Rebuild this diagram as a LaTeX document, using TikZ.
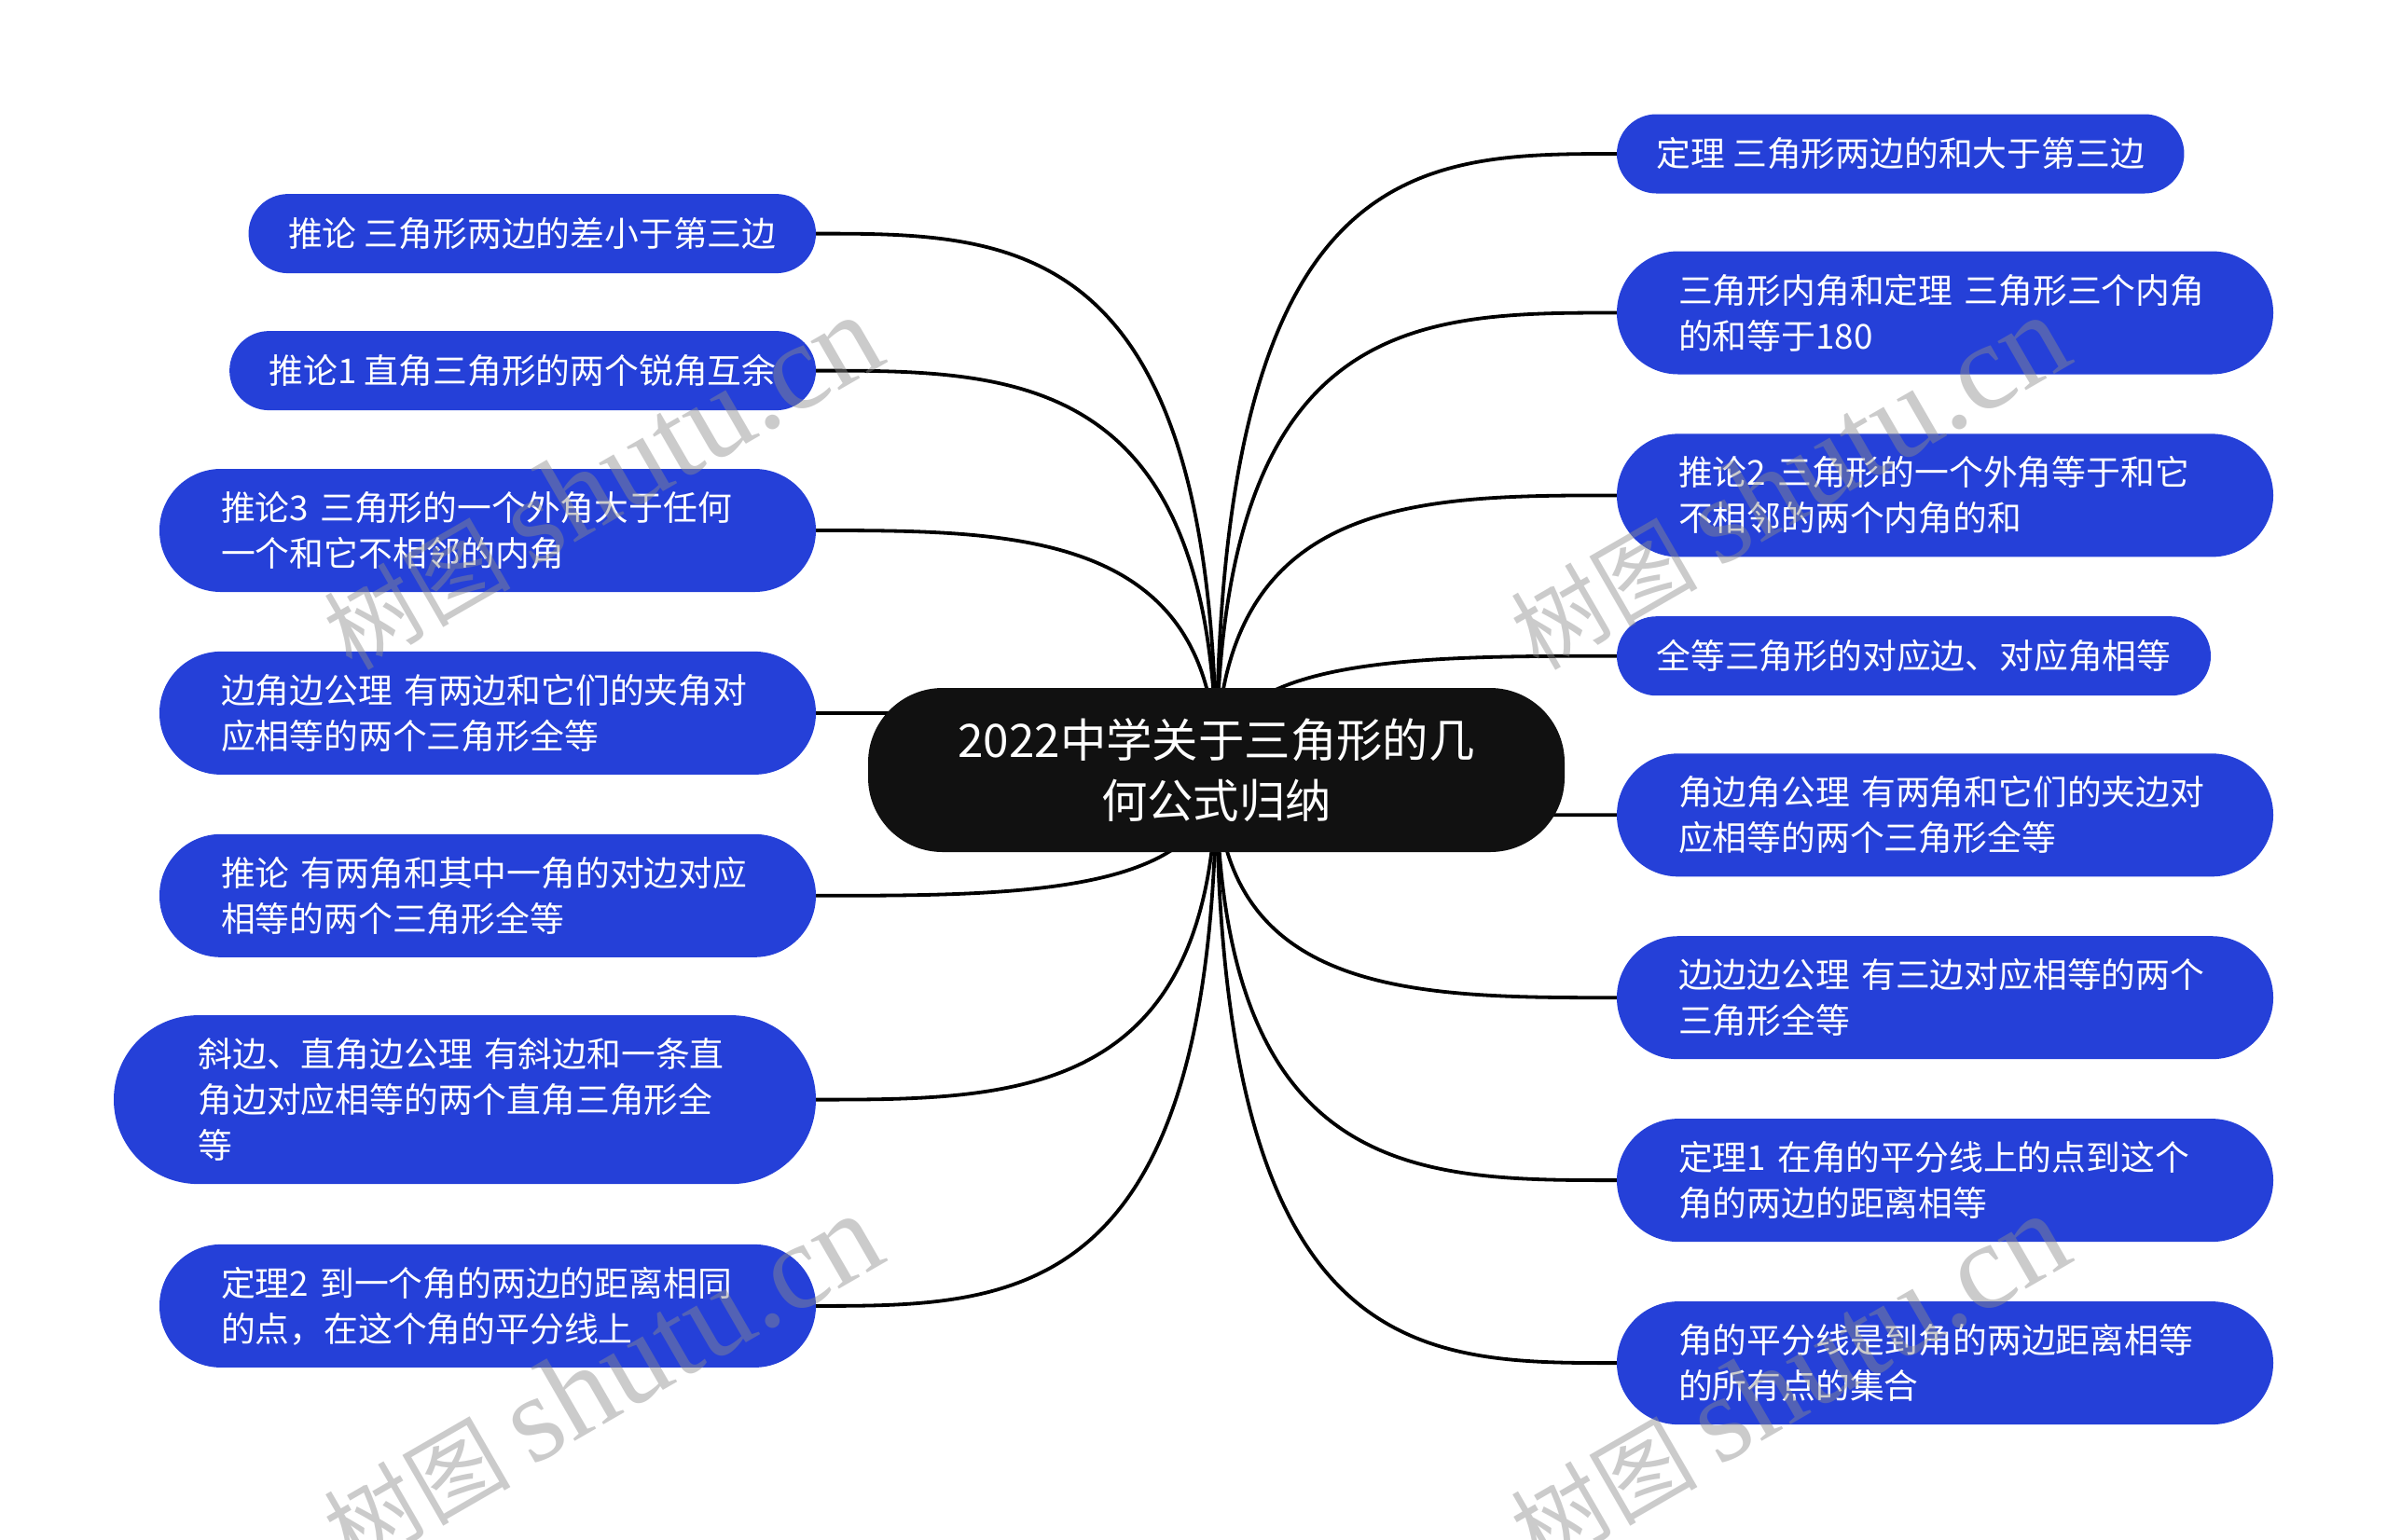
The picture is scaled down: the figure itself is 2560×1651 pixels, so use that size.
\documentclass[tikz,border=0pt]{standalone}
\usepackage{fontspec}
\setmainfont{Noto Sans CJK SC}
\newfontfamily\wmlatin{Liberation Serif}
\usetikzlibrary{backgrounds,calc}
\definecolor{leafblue}{HTML}{2540D8}
\definecolor{rootblack}{HTML}{111111}
\newcommand{\leaffont}{\fontsize{18.4pt}{24.5pt}\selectfont}
\newcommand{\rootfont}{\fontsize{24.7pt}{32.5pt}\selectfont}
\newcommand{\wmtext}{\fontsize{50pt}{50pt}\selectfont 树图 {\wmlatin\fontsize{66pt}{66pt}\selectfont shutu.cn}}
\begin{document}
\begin{tikzpicture}[x=0.5pt,y=-0.5pt,
  rootnode/.style={rectangle, rounded corners=40pt, fill=rootblack, text=white, align=center,
    inner xsep=0pt, inner ysep=0pt, outer sep=0pt, minimum width=373.5pt, minimum height=88pt, font=\rootfont},
  leafbase/.style={rectangle, fill=leafblue, text=white, align=left,
    inner ysep=0pt, outer sep=0pt, font=\leaffont},
  leaf1/.style={leafbase, minimum height=42.5pt, rounded corners=21.2pt, inner xsep=21.25pt},
  leaf2/.style={leafbase, minimum height=66pt, rounded corners=32.9pt, inner xsep=33pt, text width=286pt},
  leaf3/.style={leafbase, minimum height=90.5pt, rounded corners=45.2pt, inner xsep=45.25pt, text width=286pt},
  atR/.style={anchor=west},
  atL/.style={anchor=east},
  conn/.style={line width=1.9pt, black},
  wm/.style={text=black!45, opacity=0.45, rotate=30, inner sep=0pt}
]
\useasboundingbox (0,0) rectangle (2560,1651);

\node[rootnode] (root) at (1304.5,826) {2022中学关于三角形的几\\何公式归纳};

\node[leaf1,atR] (r1) at (1734,165) {定理 三角形两边的和大于第三边};
\node[leaf2,atR] (r2) at (1734,335.5) {三角形内角和定理 三角形三个内角\\的和等于180};
\node[leaf2,atR] (r3) at (1734,531.4) {推论2 三角形的一个外角等于和它\\不相邻的两个内角的和};
\node[leaf1,atR] (r4) at (1734,703.7) {全等三角形的对应边、对应角相等};
\node[leaf2,atR] (r5) at (1734,874.3) {角边角公理 有两角和它们的夹边对\\应相等的两个三角形全等};
\node[leaf2,atR] (r6) at (1734,1070.2) {边边边公理 有三边对应相等的两个\\三角形全等};
\node[leaf2,atR] (r7) at (1734,1266.1) {定理1 在角的平分线上的点到这个\\角的两边的距离相等};
\node[leaf2,atR] (r8) at (1734,1462.1) {角的平分线是到角的两边距离相等\\的所有点的集合};

\node[leaf1,atL] (l1) at (875,250.6) {推论 三角形两边的差小于第三边};
\node[leaf1,atL] (l2) at (875,397.6) {推论1 直角三角形的两个锐角互余};
\node[leaf2,atL] (l3) at (875,569) {推论3 三角形的一个外角大于任何\\一个和它不相邻的内角};
\node[leaf2,atL] (l4) at (875,764.9) {边角边公理 有两边和它们的夹角对\\应相等的两个三角形全等};
\node[leaf2,atL] (l5) at (875,960.8) {推论 有两角和其中一角的对边对应\\相等的两个三角形全等};
\node[leaf3,atL] (l6) at (875,1179.6) {斜边、直角边公理 有斜边和一条直\\角边对应相等的两个直角三角形全\\等};
\node[leaf2,atL] (l7) at (875,1400.9) {定理2 到一个角的两边的距离相同\\的点，在这个角的平分线上};

\begin{scope}[on background layer]
\foreach \n in {r1,r2,r3,r4,r5,r6,r7,r8}
  \draw[conn] (root.center) .. controls (root.center |- \n.west) and ($(root.center |- \n.west)!0.5!(\n.west)$) .. (\n.west);
\foreach \n in {l1,l2,l3,l4,l5,l6,l7}
  \draw[conn] (root.center) .. controls (root.center |- \n.east) and ($(root.center |- \n.east)!0.5!(\n.east)$) .. (\n.east);
\end{scope}

\node[wm] (wm1) at (645,518) {\wmtext};
\node[wm] (wm2) at (645,1482) {\wmtext};
\node[wm] (wm3) at (1918,518) {\wmtext};
\node[wm] (wm4) at (1918,1482) {\wmtext};
\end{tikzpicture}
\end{document}
